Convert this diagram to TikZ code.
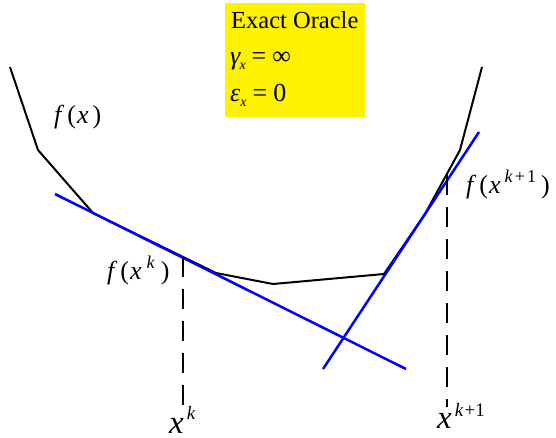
\documentclass[tikz,border=0pt]{standalone}
\usepackage{fontspec}
\setmainfont{Liberation Serif}
\begin{document}
\begin{tikzpicture}[x=1pt,y=-1pt,
  curve/.style={line width=2pt,black,line join=miter},
  tangent/.style={blue,line width=2.5pt},
  drop/.style={black,line width=2.5pt,dash pattern=on 20pt off 12pt},
  lbl/.style={inner sep=0pt,anchor=base west}]
\useasboundingbox (0,0) rectangle (556,437);
% oracle box
\node[fill=yellow,minimum width=140pt,minimum height=114pt,anchor=north west,inner sep=0pt] (box) at (225,3) {};
\node[lbl,font=\fontsize{24.5}{24.5}\selectfont] (t1) at (231,28) {Exact Oracle};
\node[lbl,font=\fontsize{26}{26}\selectfont] (t2) at (230,64) {\textit{γ}\kern-1.5pt\raisebox{-5pt}{\fontsize{14}{14}\selectfont\textit{x}}\kern6pt=\kern6pt∞};
\node[lbl,font=\fontsize{26}{26}\selectfont] (t3) at (230,101) {\textit{ε}\kern0pt\raisebox{-5pt}{\fontsize{14}{14}\selectfont\textit{x}}\kern6pt=\kern6pt0};
% function curve
\coordinate (p1) at (10,67);
\coordinate (p2) at (38,150);
\coordinate (p3) at (93,213);
\coordinate (p4) at (216,273);
\coordinate (p5) at (273,284);
\coordinate (p6) at (384,274);
\coordinate (p7) at (425,214);
\coordinate (p8) at (460,150);
\coordinate (p9) at (482,67);
\draw[curve] (p1) -- (p2) -- (p3) -- (p4) -- (p5) -- (p6) -- (p7) -- (p8) -- (p9);
% tangents
\coordinate (a1) at (55,194);
\coordinate (a2) at (406,369);
\draw[tangent] (a1) -- (a2);
\coordinate (b1) at (323,369);
\coordinate (b2) at (479,132);
\draw[tangent] (b1) -- (b2);
% drop lines
\coordinate (dk1) at (183,405);
\coordinate (dk2) at (183,258);
\draw[drop] (dk1) -- (dk2);
\coordinate (dj1) at (447,175);
\coordinate (dj2) at (447,407);
\draw[drop] (dj1) -- (dj2);
% labels
\node[lbl,font=\fontsize{26}{26}\selectfont] (fx) at (54,123) {\textit{f}\kern3pt(\kern1pt\textit{x}\kern4pt)};
\node[lbl,font=\fontsize{26}{26}\selectfont] (fxk) at (107,279) {\textit{f}\kern3pt(\kern1pt\textit{x}\kern5pt\raisebox{11pt}{\fontsize{18}{18}\selectfont\textit{k}}\kern6pt)};
\node[lbl,font=\fontsize{26}{26}\selectfont] (fxk1) at (466,193) {\textit{f}\kern3pt(\kern1pt\textit{x}\kern4pt\raisebox{11pt}{\fontsize{18}{18}\selectfont\textit{k}\kern2pt+\kern2pt1}\kern5pt)};
\node[lbl,text depth=0pt,font=\fontsize{33}{33}\selectfont] (xk) at (169,433) {\textit{x}\raisebox{14pt}{\fontsize{19}{19}\selectfont\kern3pt\textit{k}}};
\node[lbl,text depth=0pt,font=\fontsize{33}{33}\selectfont] (xk1) at (437,428) {\textit{x}\raisebox{12pt}{\fontsize{19}{19}\selectfont\kern3pt\textit{k}\kern1pt+1}};
\end{tikzpicture}
\end{document}
